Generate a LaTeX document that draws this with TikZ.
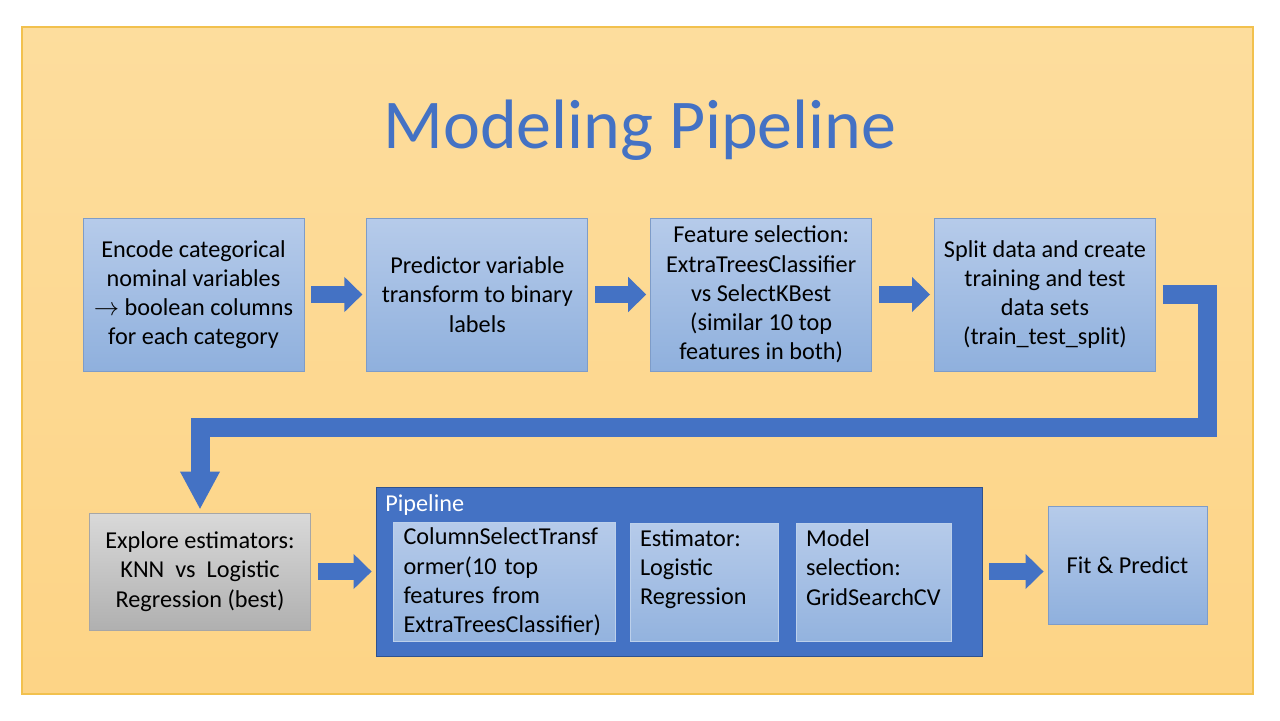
\documentclass[tikz,border=0pt]{standalone}
\usepackage{xcolor}
\usepackage{fontspec}
\setmainfont{Carlito}
\usepackage{tikz}
\usetikzlibrary{positioning, arrows.meta}
\definecolor{pipeblue}{HTML}{4472C4}
\definecolor{pipedark}{HTML}{2F528F}
\definecolor{boxtop}{HTML}{B6CBEA}
\definecolor{boxbot}{HTML}{8FB0DD}
\definecolor{boxline}{HTML}{7E9CC8}
\definecolor{graytop}{HTML}{D9D9D9}
\definecolor{graybot}{HTML}{B0B0B0}
\definecolor{bgtop}{HTML}{FDDD9D}
\definecolor{bgbot}{HTML}{FDD486}
\definecolor{bgline}{HTML}{F2C14E}
\tikzstyle{stage} = [rectangle, minimum width=4.42cm, minimum height=3.06cm, align=center, top color=boxtop, bottom color=boxbot, draw=boxline, line width=0.5pt, font=\fontsize{13.8}{16.6}\selectfont]
\tikzstyle{graystage} = [stage, minimum height=2.34cm, top color=graytop, bottom color=graybot, draw=gray!70]
\tikzstyle{inner} = [rectangle, align=left, inner xsep=0.2cm, minimum height=2.36cm, top color=boxtop, bottom color=boxbot!90!boxtop, draw=boxbot!60!white, line width=0.5pt, font=\fontsize{13.8}{16.6}\selectfont]
\tikzstyle{blockarrow} = [draw=pipeblue, line width=0.34cm, -{Triangle[width=0.68cm,length=0.36cm]}, shorten <=0.14cm, shorten >=0.08cm]
\tikzstyle{bigarrow} = [draw=pipeblue, line width=0.38cm, line join=miter, -{Triangle[width=0.74cm,length=0.76cm]}, shorten <=0.14cm, shorten >=0.06cm]

\begin{document}
\begin{tikzpicture}[x=0.02cm, y=-0.02cm, node distance=1.24cm]
   \useasboundingbox (0,0) rectangle (1280,720);
   \shade[top color=bgtop, bottom color=bgbot] (22,27) rectangle (1253,694);
   \draw[bgline, line width=0.6pt] (22,27) rectangle (1253,694);
   \node (title) at (640,130) {\fontsize{39.8}{44}\selectfont\color{pipeblue}Modeling Pipeline};
   % top row
   \node (b1) [stage] at (193.5,294.5) {Encode categorical\\nominal variables\\$\rightarrow$ boolean columns\\for each category};
   \node (b2) [stage, right=of b1] {Predictor variable\\transform to binary\\labels};
   \node (b3) [stage, right=of b2] {Feature selection:\\ExtraTreesClassifier\\vs SelectKBest\\(similar 10 top\\features in both)};
   \node (b4) [stage, right=of b3] {Split data and create\\training and test\\data sets\\(train\_test\_split)};
   % bottom row
   \node (ex) [graystage] at (200,571.5) {Explore estimators:\\KNN\ \ vs\ \ Logistic\\Regression (best)};
   \node (pipe) [rectangle, fill=pipeblue, draw=pipedark, line width=0.5pt, minimum width=12.12cm, minimum height=3.38cm] at (679,571.5) {};
   \node (plbl) [anchor=west, inner sep=0, text=white, font=\fontsize{13.8}{16.6}\selectfont] at (385,505) {Pipeline};
   \node (cst) [inner, text width=4.04cm] at (504.5,582) {ColumnSelectTransf\\ormer(10 top\\features from\\ExtraTreesClassifier)};
   \node (est) [inner, text width=2.56cm] at (704,582) {Estimator:\\Logistic\\Regression\\\mbox{}};
   \node (msel) [inner, text width=2.7cm] at (873.5,582) {Model\\selection:\\GridSearchCV\\\mbox{}};
   \node (fit) [stage, minimum width=3.18cm, minimum height=2.36cm] at (1127.5,565) {Fit \& Predict};
   % connectors
   \draw [blockarrow] (b1) -- (b2);
   \draw [blockarrow] (b2) -- (b3);
   \draw [blockarrow] (b3) -- (b4);
   \coordinate (turnA) at (1207.5,294.5);
   \coordinate (turnB) at (1207.5,427.5);
   \draw [bigarrow] (b4.east) -- (turnA) -- (turnB) -- (turnB -| ex.north) -- (ex.north);
   \draw [blockarrow] (ex) -- (pipe);
   \draw [blockarrow] (pipe) -- (fit.west |- pipe.east);
\end{tikzpicture}
\end{document}
